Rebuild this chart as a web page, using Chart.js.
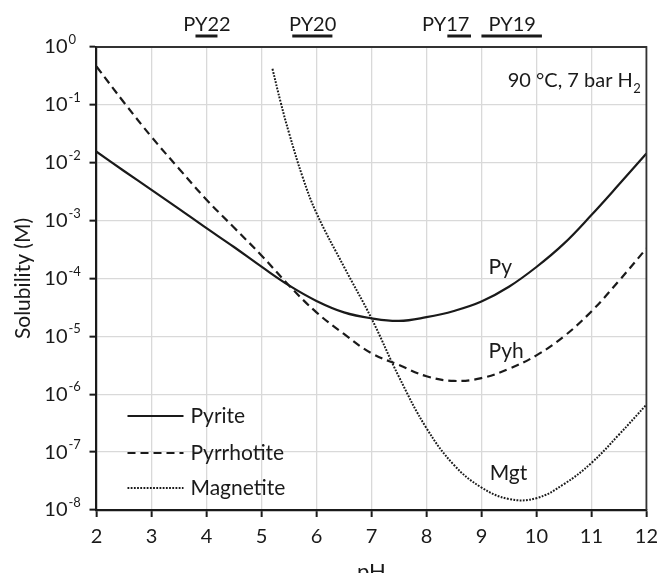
<!DOCTYPE html>
<html>
<head>
<meta charset="utf-8">
<script src="https://cdn.jsdelivr.net/npm/chart.js@4.4.0/dist/chart.umd.min.js"></script>
<style>
    html, body { margin: 0; padding: 0; background: #fff; }
</style>
</head>
<body>
<canvas id="solubility" width="666" height="573"></canvas>
<script>
// pH grid shared by the pyrite and pyrrhotite curves
const phGrid = [2, 2.5, 3, 3.5, 4, 4.5, 5, 5.5, 6, 6.5, 7, 7.5, 8, 8.5, 9, 9.5, 10, 10.5, 11, 11.5, 12];
const pyriteSol = [1.55e-2, 7.2e-3, 3.4e-3, 1.6e-3, 7.4e-4, 3.5e-4, 1.6e-4, 7.6e-5, 4.1e-5, 2.6e-5, 2.05e-5,
    1.85e-5, 2.15e-5, 2.75e-5, 4.0e-5, 7.2e-5, 1.58e-4, 4.0e-4, 1.25e-3, 4.2e-3, 1.45e-2];
const pyrrhotiteSol = [0.46, 0.11, 2.8e-2, 7.9e-3, 2.3e-3, 7.6e-4, 2.5e-4, 7.6e-5, 2.6e-5, 1.1e-5, 5.1e-6,
    3.2e-6, 2.05e-6, 1.7e-6, 1.9e-6, 2.75e-6, 4.7e-6, 1.0e-5, 2.7e-5, 9.1e-5, 3.3e-4];

const magnetitePH = [5.2, 5.35, 5.5, 5.75, 6, 6.5, 7, 7.5, 8, 8.5, 9, 9.5, 10, 10.5, 11, 11.5, 12];
const magnetiteSol = [0.42, 0.11, 3.3e-2, 5.6e-3, 1.35e-3, 1.6e-4, 2.05e-5, 2.0e-6, 2.6e-7, 6.0e-8, 2.45e-8,
    1.55e-8, 1.6e-8, 2.8e-8, 6.5e-8, 2.0e-7, 6.6e-7];

const seriesNames = ["Pyrite", "Pyrrhotite", "Magnetite"];

// short names written next to the curves, and where
const curveTags = ["Py", "Pyh", "Mgt"];
const curveTagPH = [9.13, 9.13, 9.15];
const curveTagSol = [1.55e-4, 5.6e-6, 4.3e-8];

// sample pH ranges marked above the plot
const sampleIds = ["PY22", "PY20", "PY17", "PY19"];
const sampleFrom = [3.8, 5.56, 8.38, 9.0];
const sampleTo = [4.2, 6.29, 8.81, 10.1];
const sampleTextPH = [4.01, 5.93, 8.35, 9.56];

const xTicks = [2, 3, 4, 5, 6, 7, 8, 9, 10, 11, 12];
const yDecades = [1e0, 1e-1, 1e-2, 1e-3, 1e-4, 1e-5, 1e-6, 1e-7, 1e-8];

const ink = "#1a1a1a";
const gridGrey = "#d9d9d9";
const FONT = "Lato";

function lineSet(label, xs, ys, dash, width){
    return {
        label: label,
        data: xs.map((x, i) => { return { x: x, y: ys[i] }; }),
        borderColor: ink,
        backgroundColor: ink,
        borderWidth: width,
        borderDash: dash,
        pointRadius: 0,
        fill: false,
        tension: 0.4,
    };
}

const extras = {
    id: "extras",
    afterDraw(chart){
        const ctx = chart.ctx;
        const a = chart.chartArea;
        const x = chart.scales.x, y = chart.scales.y;
        ctx.save();

        // frame on top and right
        ctx.strokeStyle = "#333";
        ctx.lineWidth = 1.8;
        ctx.beginPath();
        ctx.moveTo(a.left, a.top);
        ctx.lineTo(a.right, a.top);
        ctx.lineTo(a.right, a.bottom);
        ctx.stroke();

        ctx.fillStyle = ink;
        ctx.strokeStyle = ink;

        // exponents of the y tick labels
        ctx.font = `13px ${FONT}`;
        ctx.textAlign = "left";
        ctx.textBaseline = "alphabetic";
        let expX = a.left - 7 - 22;
        yDecades.forEach((v) => {
            ctx.fillText(String(Math.round(Math.log10(v))), expX + 1, y.getPixelForValue(v) - 3);
        });

        // sample ranges on top
        ctx.font = `20px ${FONT}`;
        ctx.textAlign = "center";
        sampleIds.forEach((id, i) => {
            ctx.fillText(id, x.getPixelForValue(sampleTextPH[i]), 31);
            ctx.lineWidth = 3;
            ctx.beginPath();
            ctx.moveTo(x.getPixelForValue(sampleFrom[i]), 36);
            ctx.lineTo(x.getPixelForValue(sampleTo[i]), 36);
            ctx.stroke();
        });

        // conditions
        ctx.textAlign = "left";
        ctx.font = `13px ${FONT}`;
        let subW = ctx.measureText("2").width;
        ctx.font = `20px ${FONT}`;
        let mainText = "90 \u00B0C, 7 bar H";
        let mainW = ctx.measureText(mainText).width;
        let startX = a.right - 6 - subW - mainW;
        ctx.fillText(mainText, startX, 87);
        ctx.font = `13px ${FONT}`;
        ctx.fillText("2", startX + mainW + 0.5, 93);

        // curve tags
        ctx.font = `21px ${FONT}`;
        ctx.textBaseline = "middle";
        curveTags.forEach((t, i) => {
            ctx.fillText(t, x.getPixelForValue(curveTagPH[i]), y.getPixelForValue(curveTagSol[i]));
        });

        // legend
        let rows = [a.bottom - 94, a.bottom - 57, a.bottom - 22];
        chart.data.datasets.forEach((ds, i) => {
            ctx.lineWidth = ds.borderWidth;
            ctx.setLineDash(ds.borderDash);
            ctx.beginPath();
            ctx.moveTo(a.left + 31, rows[i]);
            ctx.lineTo(a.left + 87, rows[i]);
            ctx.stroke();
            ctx.setLineDash([]);
            ctx.font = `21px ${FONT}`;
            ctx.fillText(ds.label, a.left + 94, rows[i]);
        });

        ctx.restore();
    },
};

new Chart(document.getElementById("solubility"), {
    type: "line",
    data: {
        datasets: [
            lineSet(seriesNames[0], phGrid, pyriteSol, [], 2.2),
            lineSet(seriesNames[1], phGrid, pyrrhotiteSol, [8, 5], 2.2),
            lineSet(seriesNames[2], magnetitePH, magnetiteSol, [1.8, 1.4], 2),
        ],
    },
    options: {
        responsive: false,
        animation: false,
        layout: { padding: { top: 47, right: 18, left: 0, bottom: 0 } },
        plugins: {
            legend: { display: false },
            tooltip: { enabled: false },
        },
        scales: {
            x: {
                type: "linear",
                min: 2,
                max: 12,
                afterBuildTicks: (s) => { s.ticks = xTicks.map((v) => { return { value: v }; }); },
                ticks: { color: ink, font: { family: FONT, size: 20 }, padding: 8, maxRotation: 0 },
                grid: { color: gridGrey, lineWidth: 1.3, tickColor: ink, tickLength: 7, tickWidth: 2 },
                border: { color: ink, width: 2.2 },
                title: { display: true, text: "pH", color: ink, font: { family: FONT, size: 22 }, padding: { top: 0, bottom: -12 } },
                afterFit: (s) => { s.height = 63; },
            },
            y: {
                type: "logarithmic",
                min: 1e-8,
                max: 1,
                afterBuildTicks: (s) => { s.ticks = yDecades.map((v) => { return { value: v }; }); },
                ticks: { color: ink, font: { family: FONT, size: 20 }, padding: 22, callback: () => "10" },
                grid: { color: gridGrey, lineWidth: 1.3, tickColor: ink, tickLength: 7, tickWidth: 2 },
                border: { color: ink, width: 2.2 },
                title: { display: true, text: "Solubility (M)", color: ink, font: { family: FONT, size: 21 }, padding: { top: 11, bottom: 0 } },
                afterFit: (s) => { s.width = 96.5; },
            },
        },
    },
    plugins: [extras],
});
</script>
</body>
</html>
